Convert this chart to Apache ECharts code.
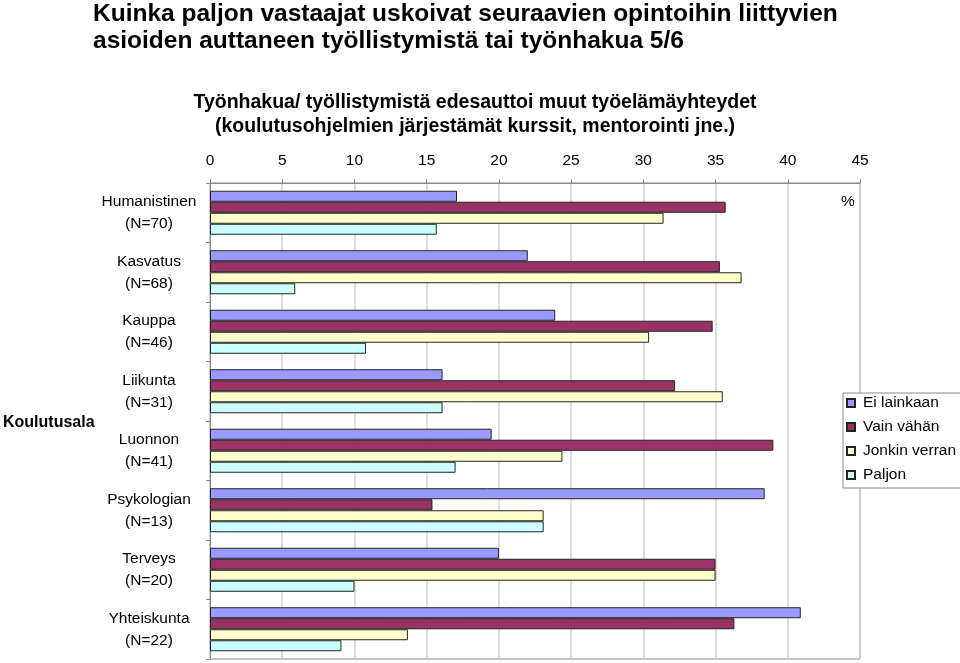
<!DOCTYPE html>
<html>
<head>
<meta charset="utf-8">
<script src="https://cdn.jsdelivr.net/npm/echarts@6/dist/echarts.min.js"></script>
<style>
html,body{margin:0;padding:0;background:#fff;}
#chart{width:960px;height:663px;}
</style>
</head>
<body>
<div id="chart"></div>
<script>
const categories = ['Humanistinen\n(N=70)', 'Kasvatus\n(N=68)', 'Kauppa\n(N=46)', 'Liikunta\n(N=31)', 'Luonnon\n(N=41)', 'Psykologian\n(N=13)', 'Terveys\n(N=20)', 'Yhteiskunta\n(N=22)'];
const seriesNames = ['Ei lainkaan', 'Vain vähän', 'Jonkin verran', 'Paljon'];
const eiLainkaan = [17.1, 22.0, 23.9, 16.1, 19.5, 38.4, 20.0, 40.9];
const vainVahan = [35.7, 35.3, 34.8, 32.2, 39.0, 15.4, 35.0, 36.3];
const jonkinVerran = [31.4, 36.8, 30.4, 35.5, 24.4, 23.1, 35.0, 13.7];
const paljon = [15.7, 5.9, 10.8, 16.1, 17.0, 23.1, 10.0, 9.1];
const xMin = 0, xMax = 45, xStep = 5;

const colors = ['#9999FF', '#993366', '#FFFFCC', '#CCFFFF'];
const values = [eiLainkaan, vainVahan, jonkinVerran, paljon];
const FONT = '"Liberation Sans", Arial, sans-serif';

const chart = echarts.init(document.getElementById('chart'), null, {renderer: 'canvas'});
chart.setOption({
  animation: false,
  backgroundColor: '#fff',
  textStyle: {fontFamily: FONT},
  title: [
    {
      text: 'Kuinka paljon vastaajat uskoivat seuraavien opintoihin liittyvien\nasioiden auttaneen työllistymistä tai työnhakua 5/6',
      left: 93, top: 1, padding: 0,
      textStyle: {fontFamily: FONT, fontSize: 24.5, fontWeight: 'bold', color: '#000', lineHeight: 27}
    },
    {
      text: 'Työnhakua/ työllistymistä edesauttoi muut työelämäyhteydet\n(koulutusohjelmien järjestämät kurssit, mentorointi jne.)',
      left: 475, top: 91, padding: 0, textAlign: 'center',
      textStyle: {fontFamily: FONT, fontSize: 19.5, fontWeight: 'bold', color: '#000', lineHeight: 24, align: 'center'}
    }
  ],
  legend: {
    orient: 'vertical',
    left: 843, top: 393,
    itemWidth: 8, itemHeight: 8, itemGap: 8,
    padding: [2, 60, 5, 3],
    borderColor: '#888', borderWidth: 1, backgroundColor: '#fff',
    textStyle: {fontFamily: FONT, fontSize: 15.5, color: '#000', lineHeight: 16, padding: [0, 0, 0, 3]},
    data: seriesNames.map(n => ({name: n, icon: 'rect'}))
  },
  grid: {
    left: 210, right: 100, top: 183, bottom: 4,
    show: true, borderColor: '#888', borderWidth: 1, backgroundColor: 'transparent'
  },
  xAxis: {
    type: 'value', position: 'top', min: xMin, max: xMax, interval: xStep,
    axisLine: {show: true, lineStyle: {color: '#888'}},
    axisTick: {show: true, length: 4, lineStyle: {color: '#888'}},
    axisLabel: {fontFamily: FONT, fontSize: 15.5, color: '#000', margin: 14},
    splitLine: {show: true, lineStyle: {color: '#d0d0d0', width: 1.5}}
  },
  yAxis: {
    type: 'category', inverse: true, data: categories,
    axisLine: {show: true, lineStyle: {color: '#888'}},
    axisTick: {show: true, length: 4, lineStyle: {color: '#888'}},
    axisLabel: {fontFamily: FONT, fontSize: 15.5, color: '#000', align: 'center', margin: 61, lineHeight: 22, padding: [3, 0, 0, 0]}
  },
  graphic: [
    {type: 'text', left: 3, top: 415, style: {text: 'Koulutusala', font: 'bold 16px ' + FONT, fill: '#000'}},
    {type: 'text', left: 841, top: 194, style: {text: '%', font: '15.5px ' + FONT, fill: '#000'}}
  ],
  series: values.map((v, i) => ({
    name: seriesNames[i], type: 'bar', data: v,
    barGap: '0%', barCategoryGap: '26%',
    itemStyle: {color: colors[i], borderColor: '#222', borderWidth: 1}
  }))
});
</script>
</body>
</html>
